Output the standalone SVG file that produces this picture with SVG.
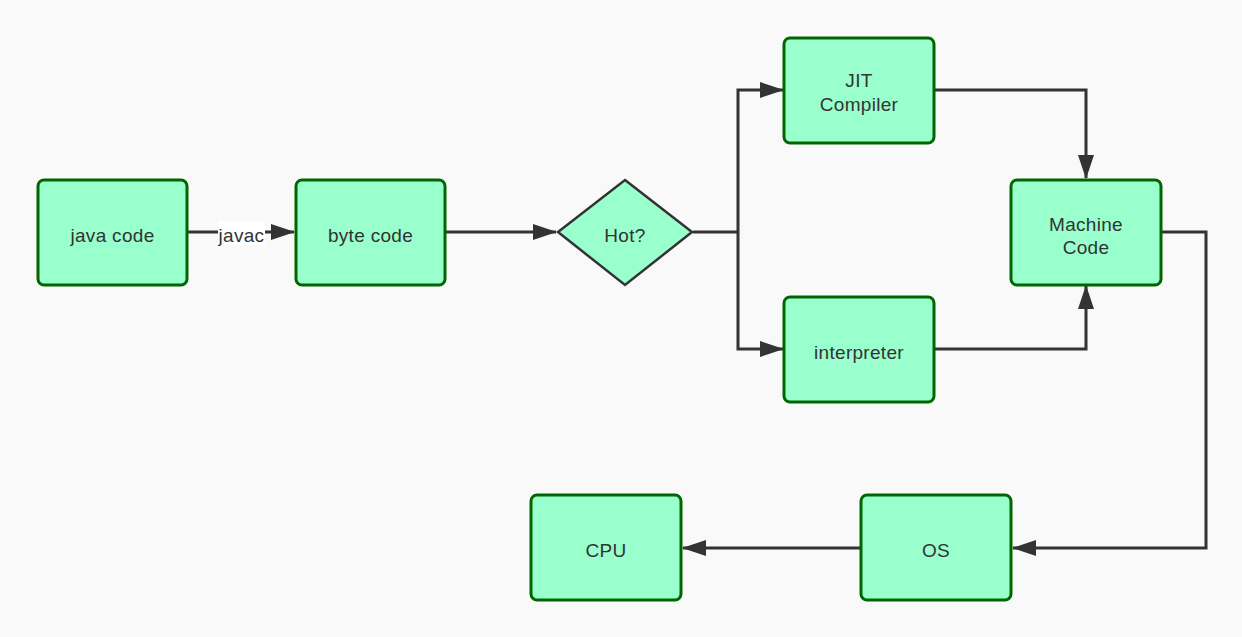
<svg xmlns="http://www.w3.org/2000/svg" width="1242" height="637" viewBox="0 0 1242 637">
<style>
.n rect, .n polygon { fill: #99ffcc; stroke: #006600; stroke-width: 3; }
.n polygon { stroke: #333333; stroke-width: 2.5; }
text { font-family: "Liberation Sans", Arial, sans-serif; font-size: 19px; letter-spacing: 0.3px; fill: #333333; text-anchor: middle; }
.e path { fill: none; stroke: #333333; stroke-width: 3; }
</style>
<defs>
<marker id="ah" viewBox="0 0 24 16" refX="23" refY="8" markerWidth="24" markerHeight="16" markerUnits="userSpaceOnUse" orient="auto">
<path d="M0,0 L24,8 L0,16 Z" fill="#333333"/>
</marker>
</defs>
<rect width="1242" height="637" fill="#f9f9f9"/>
<g id="connectors" class="e">
<path d="M187,232 H294" marker-end="url(#ah)"/>
<path d="M445,232 H556" marker-end="url(#ah)"/>
<path d="M693,232 H738"/>
<path d="M738,232 V90 H783" marker-end="url(#ah)"/>
<path d="M738,232 V349 H783" marker-end="url(#ah)"/>
<path d="M934,90 H1086 V178" marker-end="url(#ah)"/>
<path d="M934,349 H1086 V286" marker-end="url(#ah)"/>
<path d="M1161,232 H1206 V548 H1013" marker-end="url(#ah)"/>
<path d="M860,548 H683" marker-end="url(#ah)"/>
<rect x="218" y="221" width="47" height="24" fill="#ffffff"/>
<text x="241.5" y="241.5">javac</text>
</g>
<g id="java-code" class="n"><rect x="38" y="180" width="149" height="105" rx="6"/><text x="112.5" y="241.5">java code</text></g>
<g id="byte-code" class="n"><rect x="296" y="180" width="149" height="105" rx="6"/><text x="370.5" y="241.5">byte code</text></g>
<g id="hot" class="n"><polygon points="625,180 692,232 625,285 558,232"/><text x="625" y="241.5">Hot?</text></g>
<g id="jit" class="n"><rect x="784" y="38" width="150" height="105" rx="6"/><text x="859" y="87">JIT</text><text x="859" y="110.5">Compiler</text></g>
<g id="interpreter" class="n"><rect x="784" y="297" width="150" height="105" rx="6"/><text x="859" y="358.5">interpreter</text></g>
<g id="machine-code" class="n"><rect x="1011" y="180" width="150" height="105" rx="6"/><text x="1086" y="230.5">Machine</text><text x="1086" y="253.5">Code</text></g>
<g id="os" class="n"><rect x="861" y="495" width="150" height="105" rx="6"/><text x="936" y="557">OS</text></g>
<g id="cpu" class="n"><rect x="531" y="495" width="150" height="105" rx="6"/><text x="606" y="557">CPU</text></g>
</svg>
